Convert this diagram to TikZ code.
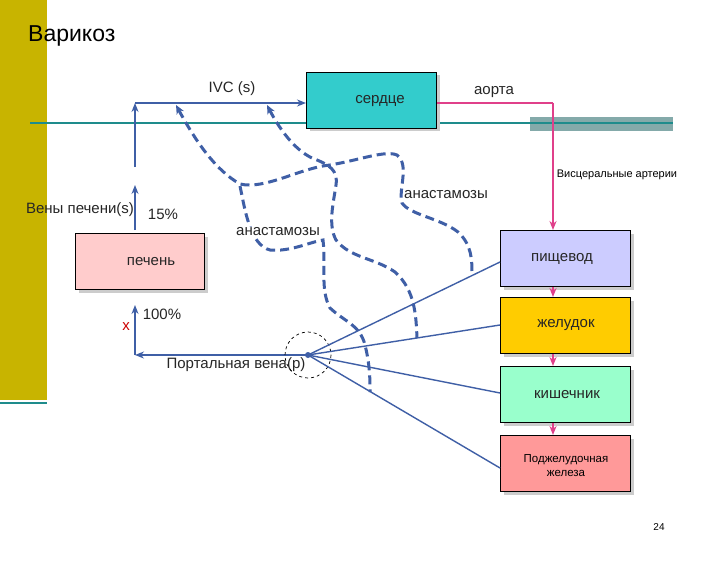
\documentclass[tikz,border=0pt]{standalone}
\usepackage{fontspec}
\setmainfont{Liberation Sans}
\usetikzlibrary{arrows.meta,shadows}
\definecolor{olive}{HTML}{C8B400}
\definecolor{tealln}{HTML}{1E8C8C}
\definecolor{bl}{HTML}{3F5FA6}
\definecolor{pk}{HTML}{E0408A}
\begin{document}
\begin{tikzpicture}[x=1pt,y=-1pt,
  box/.style={draw=black,line width=1pt,minimum width=130pt,minimum height=56pt,anchor=north west,
    drop shadow={shadow xshift=3pt,shadow yshift=-3pt,fill=gray!40,opacity=1}},
  lab/.style={font=\fontsize{15}{17}\selectfont,inner sep=0pt,text=black!85},
  bar/.style={-{Stealth[length=9pt,width=7pt]},bl,line width=1.4pt},
  pa/.style={-{Stealth[length=9pt,width=7pt]},pk,line width=1.6pt},
  dsh/.style={bl,line width=3pt,dash pattern=on 9pt off 5pt},
  spk/.style={bl,line width=1.4pt}]
\useasboundingbox (0,0) rectangle (709,567);
\fill[white] (0,0) rectangle (709,567);
\fill[olive] (0,0) rectangle (47,400);
\draw[tealln,line width=1.2pt] (0,403) -- (47,403);
\node[font=\fontsize{23}{27}\selectfont,anchor=west,inner sep=0pt] (title) at (28,36) {Варикоз};
% horizontal teal line and grey bar
\fill[tealln!50!gray!70] (530,117) rectangle (673,131);
\draw[tealln,line width=2pt] (30,123) -- (306,123);
\draw[tealln,line width=2pt] (440,123) -- (673,123);
% boxes
\node[box,fill={rgb,255:red,51;green,204;blue,204}] (heart) at (306,72) {};
\node[lab] at (380,101) {сердце};
\node[box,minimum width=129pt,fill={rgb,255:red,255;green,204;blue,204}] (liver) at (75,233) {};
\node[lab] at (151,262) {печень};
\node[box,fill={rgb,255:red,204;green,204;blue,255}] (eso) at (500,230) {};
\node[lab] at (562,259) {пищевод};
\node[box,fill={rgb,255:red,255;green,204;blue,0}] (stom) at (500,297) {};
\node[lab] at (566,325) {желудок};
\node[box,fill={rgb,255:red,153;green,255;blue,204}] (gut) at (500,366) {};
\node[lab] at (567,395) {кишечник};
\node[box,fill={rgb,255:red,255;green,153;blue,153}] (panc) at (500,435) {};
\node[font=\fontsize{11.5}{14}\selectfont,align=center,inner sep=0pt] at (566,466) {Поджелудочная\\железа};
% coordinates
\coordinate (p) at (308,355);
\coordinate (c1) at (135,103);
\coordinate (c2) at (135,167);
\coordinate (c3) at (135,230);
\coordinate (c4) at (135,185);
\coordinate (c5) at (135,355);
\coordinate (c6) at (135,305);
\coordinate (a1) at (553,103);
% venous arrows
\draw[bar] (c1) -- (heart.west |- c1);
\draw[bar] (c2) -- (c1);
\draw[bar] (c3) -- (c4);
\draw[bar] (c5) -- (c6);
\draw[bar] (p) -- (c5);
\node[lab] at (232,89) {IVC (s)};
\node[lab] at (80,210) {Вены печени(s)};
\node[lab] at (163,214) {15\%};
\node[lab] at (162,314) {100\%};
\node[lab,text=red!80!black] at (126,327) {x};
\node[lab] at (236,365) {Портальная вена(p)};
\draw[black,dashed,line width=0.7pt] (p) circle (23);
\fill[bl] (p) circle (3);
% spokes
\draw[spk] (p) -- (eso.west |- 0,262);
\draw[spk] (p) -- (stom.west |- 0,325);
\draw[spk] (p) -- (gut.west |- 0,393);
\draw[spk] (p) -- (panc.west |- 0,468);
% arterial
\draw[pk,line width=1.6pt] (heart.east |- a1) -- (a1);
\draw[pa] (a1) -- (eso.north -| a1);
\draw[pa] (eso.south -| a1) -- (stom.north -| a1);
\draw[pa] (stom.south -| a1) -- (gut.north -| a1);
\draw[pa] (gut.south -| a1) -- (panc.north -| a1);
\node[lab] at (494,92) {аорта};
\node[font=\fontsize{11}{13}\selectfont,inner sep=0pt] at (617,175) {Висцеральные артерии};
% anastomoses
\draw[dsh,{Stealth[length=9pt,width=8pt]}-] (176,105) .. controls (195,140) and (215,170) .. (240,184)
  .. controls (265,190) and (300,168) .. (330,165) .. controls (360,160) and (385,150) .. (397,155)
  .. controls (410,165) and (398,190) .. (402,203) .. controls (410,215) and (440,218) .. (458,232)
  .. controls (472,245) and (472,260) .. (472,275);
\draw[dsh] (240,186) .. controls (245,210) and (250,245) .. (270,250) .. controls (290,252) and (310,242) .. (323,240)
  .. controls (326,265) and (320,290) .. (330,308) .. controls (345,322) and (360,325) .. (365,345)
  .. controls (370,365) and (370,380) .. (370,392);
\draw[dsh,{Stealth[length=9pt,width=8pt]}-] (267,105) .. controls (280,130) and (295,150) .. (312,158)
  .. controls (330,165) and (338,170) .. (336,185) .. controls (333,205) and (328,225) .. (336,240)
  .. controls (350,258) and (375,258) .. (395,272) .. controls (415,290) and (416,315) .. (417,338);
\node[lab,fill=white,inner sep=1pt] at (446,195) {анастамозы};
\node[lab,fill=white,inner sep=1pt] at (278,232) {анастамозы};
\node[font=\fontsize{10}{12}\selectfont,inner sep=0pt] at (659,527) {24};
\end{tikzpicture}
\end{document}
